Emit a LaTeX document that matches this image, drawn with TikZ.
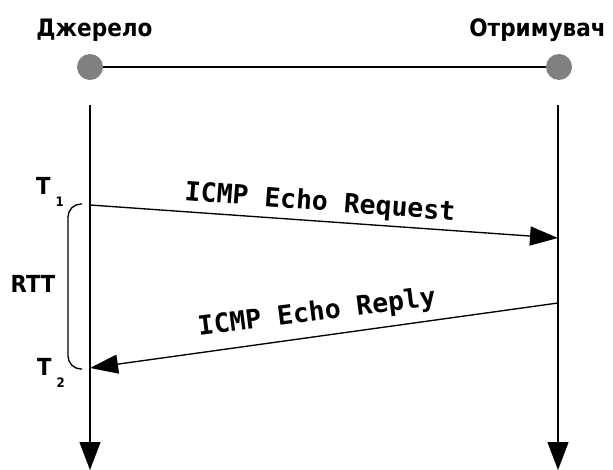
\documentclass[tikz,border=0pt]{standalone}
\usepackage{fontspec}
\setmainfont{DejaVu Sans}[FakeStretch=0.9]
\newfontfamily\msgfont{DejaVu Sans Mono}
\usetikzlibrary{arrows.meta}
\definecolor{hostgray}{RGB}{128,128,128}
\tikzset{
  head/.style={font=\fontsize{24}{24}\selectfont\bfseries, anchor=base, inner sep=0pt},
  tmark/.style={font=\fontsize{23.5}{23.5}\selectfont\bfseries, anchor=base west, inner sep=0pt},
  msg/.style={font=\msgfont\bfseries\fontsize{26.5}{26.5}\selectfont, inner sep=0pt},
  host/.style={circle, fill=hostgray, minimum size=26pt, inner sep=0pt},
  wire/.style={line width=1.35pt},
  life/.style={wire, -{Triangle[length=28pt,width=21pt]}},
  sig/.style={wire, -{Triangle[length=28pt,width=19pt]}},
}
\newcommand{\tsub}[1]{\hspace{5pt}\raisebox{-12pt}{\fontsize{13}{13}\selectfont #1}}
\begin{document}
\begin{tikzpicture}[x=1pt,y=-1pt]
\useasboundingbox (0,0) rectangle (613,470);

% hosts and the link between them
\node[host] (src) at (90,67) {};
\node[host] (dst) at (559,67) {};
\draw[wire] (src) -- (dst);
\node[head] (srcName) at (94.5,37) {Джерело};
\node[head] (dstName) at (537.5,37) {Отримувач};

% time lines
\coordinate (srcTop) at (90,105);
\coordinate (srcEnd) at (90,470);
\coordinate (dstTop) at (558,105);
\coordinate (dstEnd) at (558,470);
\draw[life] (srcTop) -- (srcEnd);
\draw[life] (dstTop) -- (dstEnd);

% echo request and reply
\coordinate (t1) at (90,205);
\coordinate (rq) at (558,238);
\coordinate (rp) at (558,303);
\coordinate (t2) at (90,368);
\draw[sig] (t1) -- (rq);
\draw[sig] (rp) -- (t2);
\node[msg, rotate=-4.3] (reqLabel) at (320,203) {ICMP Echo Request};
\node[msg, rotate=7.2] (repLabel) at (317,313) {ICMP Echo Reply};

% timestamps and round-trip time
\node[tmark] (t1Label) at (36,195) {T\tsub{1}};
\node[tmark] (t2Label) at (37,375) {T\tsub{2}};
\node[tmark, anchor=base] (rtt) at (33,293) {RTT};
\draw[wire, rounded corners=13pt] (82,204) -- (68,204) -- (68,369) -- (82,369);
\end{tikzpicture}
\end{document}
